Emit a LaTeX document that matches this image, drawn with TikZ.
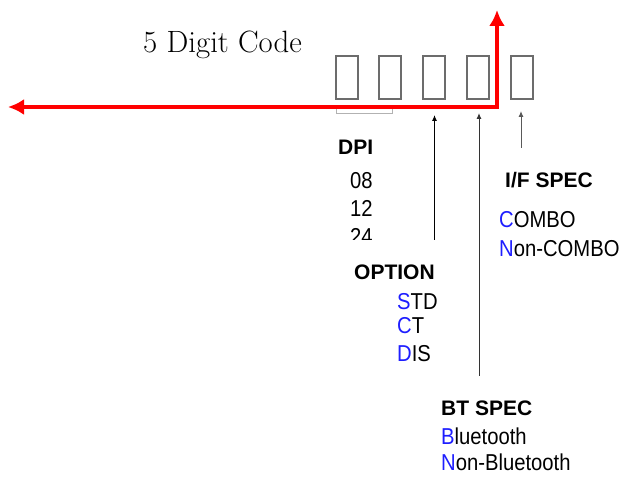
\documentclass[tikz,border=0pt]{standalone}
\usepackage{fontspec}
\newfontfamily\labfont[FakeStretch=0.88]{Liberation Sans}
\newfontfamily\labhead{Liberation Sans}
\usetikzlibrary{arrows.meta}
\definecolor{keyblue}{RGB}{30,30,255}
\begin{document}
\begin{tikzpicture}[x=1pt,y=-1pt,
  digitbox/.style={draw=gray!85!black, line width=1.2pt, minimum width=22pt, minimum height=43pt, inner sep=0pt},
  headtxt/.style={anchor=base west, inner sep=0pt, font=\fontsize{21}{21}\selectfont\labhead\bfseries},
  itemtxt/.style={anchor=base west, inner sep=0pt, font=\fontsize{23}{23}\selectfont\labfont},
  redpath/.style={draw=red, line width=4pt, {Latex[length=16pt,width=16pt]}-{Latex[length=16pt,width=16pt]}},
  pointer/.style={line width=1pt, -{Latex[length=6pt,width=5pt]}}
]
\useasboundingbox (0,0) rectangle (622,478);

% title
\node[anchor=base west, inner sep=0pt, font=\fontsize{30.8}{30.8}\selectfont] (title) at (143,53) {5 Digit Code};

% digit boxes
\node[digitbox] (b1) at (347,77.5) {};
\node[digitbox] (b2) at (390,77.5) {};
\node[digitbox] (b3) at (434,77.5) {};
\node[digitbox] (b4) at (478,77.5) {};
\node[digitbox] (b5) at (522,77.5) {};

% DPI bracket
\draw[gray!60, line width=1pt] (336,109) -- (336,114) -- (392,114) -- (392,109);

% red arrow
\coordinate (rl) at (8,107);
\coordinate (rt) at (497,10);
\draw[redpath] (rl) -| (rt);

% DPI
\node[headtxt] (dpi) at (338,155) {DPI};
\node[itemtxt] (d08) at (350,189) {08};
\node[itemtxt] (d12) at (350,217) {12};
\node[itemtxt] (d24) at (350,245) {24};

% white cover under OPTION
\fill[white] (340,240) rectangle (456,284);

% OPTION
\node[headtxt] (opt) at (354,280) {OPTION};
\node[itemtxt] (std) at (397,310) {\textcolor{keyblue}{S}TD};
\node[itemtxt] (ct) at (397,334) {\textcolor{keyblue}{C}T};
\node[itemtxt] (dis) at (397,362) {\textcolor{keyblue}{D}IS};

% I/F SPEC
\node[headtxt] (ifs) at (505,188) {I/F SPEC};
\node[itemtxt] (combo) at (499,228) {\textcolor{keyblue}{C}OMBO};
\node[itemtxt] (ncombo) at (499,257) {\textcolor{keyblue}{N}on-COMBO};

% BT SPEC
\node[headtxt] (bts) at (441,416) {BT SPEC};
\node[itemtxt] (bt) at (441,445) {\textcolor{keyblue}{B}luetooth};
\node[itemtxt] (nbt) at (441,471) {\textcolor{keyblue}{N}on-Bluetooth};

% pointers
\coordinate (p3s) at (434.5,240);
\coordinate (p3e) at (434.5,115);
\coordinate (p4s) at (479,376);
\coordinate (p4e) at (479,113);
\coordinate (p5s) at (521,148);
\coordinate (p5e) at (521,111);
\draw[pointer, black] (p3s) -- (p3e);
\draw[pointer, black!80] (p4s) -- (p4e);
\draw[pointer, black!65] (p5s) -- (p5e);
\end{tikzpicture}
\end{document}
